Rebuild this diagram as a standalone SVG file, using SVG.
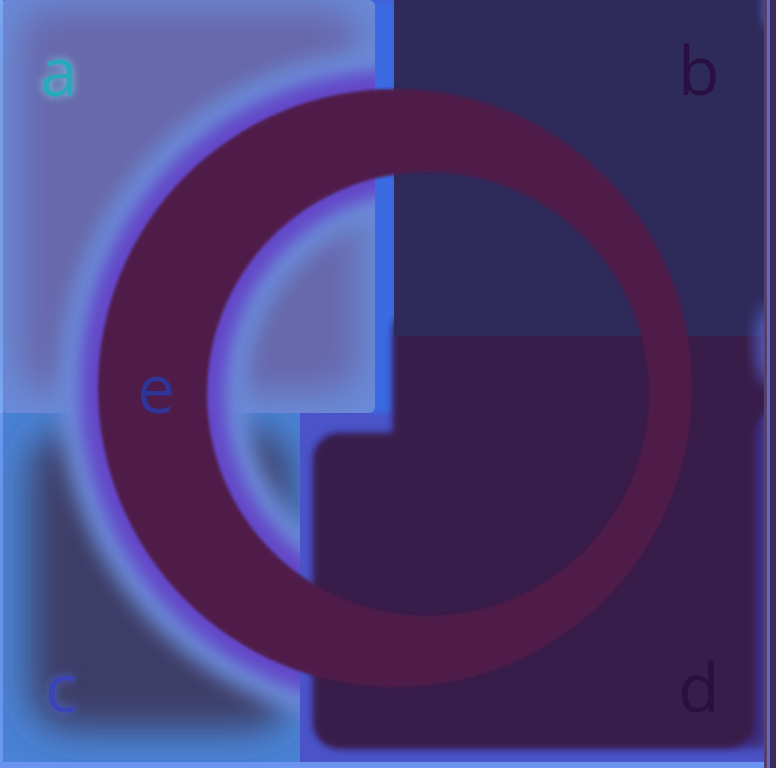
<svg xmlns="http://www.w3.org/2000/svg" width="776" height="768" viewBox="0 0 776 768">
<style>
.lbl{font-family:"Open Sans","Noto Sans",sans-serif;font-size:68px}
</style>
<defs>
<filter id="b18" x="-30%" y="-30%" width="160%" height="160%"><feGaussianBlur stdDeviation="18"/></filter>
<filter id="b10" x="-30%" y="-30%" width="160%" height="160%"><feGaussianBlur stdDeviation="10"/></filter>
<filter id="b8" x="-30%" y="-30%" width="160%" height="160%"><feGaussianBlur stdDeviation="8"/></filter>
<filter id="b5" x="-30%" y="-30%" width="160%" height="160%"><feGaussianBlur stdDeviation="5"/></filter>
<filter id="b3" x="-10%" y="-10%" width="120%" height="120%"><feGaussianBlur stdDeviation="3"/></filter>
<filter id="b2" x="-10%" y="-10%" width="120%" height="120%"><feGaussianBlur stdDeviation="1.5"/></filter>
<clipPath id="clipA"><rect x="0" y="0" width="375" height="413" rx="6"/></clipPath>
<clipPath id="clipC"><rect x="0" y="413" width="300" height="350"/></clipPath>
<clipPath id="clipAC"><rect x="0" y="0" width="375" height="413" rx="6"/><rect x="0" y="413" width="300" height="350"/></clipPath>
<path id="ring" fill-rule="evenodd" d="M98,388 A297,299 0 1,0 692,388 A297,299 0 1,0 98,388 Z M207,394 A221,222 0 1,1 649,394 A221,222 0 1,1 207,394 Z"/>
</defs>
<rect width="776" height="768" fill="#4a54c8"/>
<rect x="0" y="762" width="776" height="6" fill="#6a94f0"/>
<rect x="370" y="0" width="26" height="413" fill="#3a6ae2" filter="url(#b3)"/>
<g id="node-a">
<rect x="0" y="0" width="375" height="413" rx="6" fill="#6a8ad8"/>
<rect x="0" y="0" width="3" height="413" fill="#7aa8f4"/>
<g clip-path="url(#clipA)">
<rect x="20" y="8" width="338" height="384" rx="30" fill="#6868aa" filter="url(#b18)"/>
</g>
</g>
<g id="node-c">
<rect x="0" y="413" width="300" height="349" fill="#4a82d4"/>
<rect x="0" y="413" width="3" height="349" fill="#6a98f0"/>
<g clip-path="url(#clipC)">
<rect x="30" y="430" width="260" height="300" rx="40" fill="#3e3e66" filter="url(#b18)"/>
</g>
</g>
<g id="node-d">
<path d="M394,330 H766 V748 H394 Z M340,434 H754 V722 A26,26 0 0 1 728,748 H340 A26,26 0 0 1 314,722 V460 A26,26 0 0 1 340,434 Z" fill="#3e2a7a" filter="url(#b5)"/>
<path d="M394,320 H768 V410 Q754,420 754,440 V722 A26,26 0 0 1 728,748 H340 A26,26 0 0 1 314,722 V460 A26,26 0 0 1 340,434 H394 Z" fill="#381a4a" filter="url(#b3)"/>
</g>
<g id="node-b">
<rect x="394" y="0" width="372" height="336" fill="#2e2a5a"/>
</g>
<g id="frame">
<ellipse cx="770" cy="345" rx="14" ry="40" fill="#5a6ad8" filter="url(#b8)" opacity="0.8"/>
<ellipse cx="772" cy="10" rx="10" ry="20" fill="#5a6ad8" filter="url(#b5)" opacity="0.7"/>
<rect x="764" y="0" width="3" height="768" fill="#54406e"/>
<rect x="767" y="0" width="3" height="768" fill="#6a68b8"/>
<rect x="770" y="0" width="6" height="768" fill="#3c2c5e"/>
</g>
<g id="node-e">
<g clip-path="url(#clipAC)">
<use href="#ring" fill="none" stroke="#6a8ad8" stroke-width="80" filter="url(#b10)"/>
<use href="#ring" fill="none" stroke="#6446c8" stroke-width="36" filter="url(#b8)"/>
</g>
<use href="#ring" fill="#501a48" filter="url(#b2)"/>
</g>
<g id="labels">
<text class="lbl" x="40" y="96" fill="#80e8f0" filter="url(#b5)" opacity="0.8">a</text>
<text class="lbl" x="40" y="96" fill="#2aa8bc">a</text>
<text class="lbl" x="678" y="95" fill="#2a1040">b</text>
<text class="lbl" x="45" y="712" fill="#5a70e0" filter="url(#b5)" opacity="0.7">c</text>
<text class="lbl" x="45" y="712" fill="#3a44b8">c</text>
<text class="lbl" x="678" y="712" fill="#2a1040">d</text>
<text class="lbl" x="137" y="413" fill="#2e3498">e</text>
</g>
</svg>
